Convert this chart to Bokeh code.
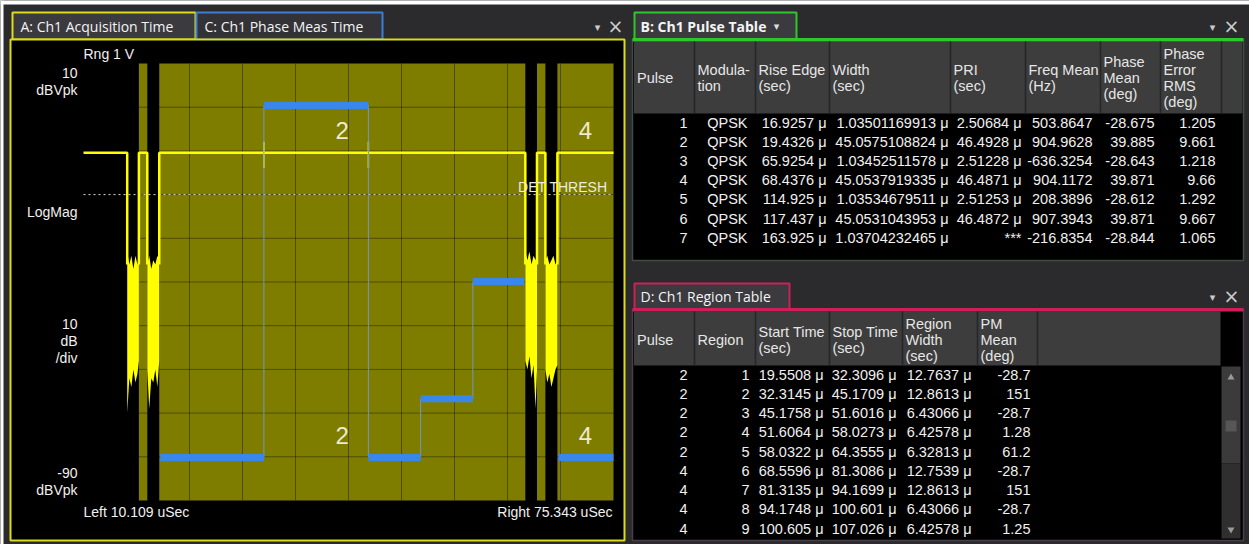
from bokeh.plotting import figure
from bokeh.models import Range1d
from bokeh.core.properties import value
from bokeh.embed import file_html
from bokeh.resources import INLINE

# ---------------- chart values ----------------
x_left_us = 10.109
x_right_us = 75.343
db_top = 10.0
db_bottom = -90.0
db_per_div = 10.0
det_thresh_db = -20.0
trace_on_db = -10.4
prev_pulse_end_us = 15.49
phase_top_deg = 172.4
phase_bottom_deg = -50.6
range_v = 1

# Pulse table (B)
pulse_no = [1, 2, 3, 4, 5, 6, 7]
pulse_mod = ["QPSK", "QPSK", "QPSK", "QPSK", "QPSK", "QPSK", "QPSK"]
rise_edge_us = [16.9257, 19.4326, 65.9254, 68.4376, 114.925, 117.437, 163.925]
width_us = [1.03501169913, 45.0575108824, 1.03452511578, 45.0537919335,
            1.03534679511, 45.0531043953, 1.03704232465]
pri_us = [2.50684, 46.4928, 2.51228, 46.4871, 2.51253, 46.4872, None]
freq_mean_hz = [503.8647, 904.9628, -636.3254, 904.1172, 208.3896, 907.3943, -216.8354]
phase_mean_deg = [-28.675, 39.885, -28.643, 39.871, -28.612, 39.871, -28.844]
phase_err_rms_deg = [1.205, 9.661, 1.218, 9.66, 1.292, 9.667, 1.065]

# Region table (D)
region_pulse = [2, 2, 2, 2, 2, 4, 4, 4, 4]
region_no = [1, 2, 3, 4, 5, 6, 7, 8, 9]
region_start_us = [19.5508, 32.3145, 45.1758, 51.6064, 58.0322, 68.5596, 81.3135, 94.1748, 100.605]
region_stop_us = [32.3096, 45.1709, 51.6016, 58.0273, 64.3555, 81.3086, 94.1699, 100.601, 107.026]
region_width_us = [12.7637, 12.8613, 6.43066, 6.42578, 6.32813, 12.7539, 12.8613, 6.43066, 6.42578]
region_pm_mean_deg = [-28.7, 151, -28.7, 1.28, 61.2, -28.7, 151, -28.7, 1.25]

# Off-pulse noise bursts seen in the gaps (us, dBVpk)
noise_t_us = [
    [15.49, 15.75, 16.0, 16.25, 16.5, 16.75, 16.93],
    [17.96, 18.2, 18.45, 18.7, 18.95, 19.2, 19.43],
    [64.49, 64.75, 65.0, 65.25, 65.5, 65.75, 65.93],
    [66.96, 67.2, 67.45, 67.7, 67.95, 68.2, 68.44],
]
noise_hi_db = [
    [-33, -36, -34, -37, -34, -36, -35],
    [-36, -34, -37, -35, -36, -34, -35],
    [-33, -35, -33, -36, -34, -35, -34],
    [-35, -34, -36, -35, -34, -36, -35],
]
noise_lo_db = [
    [-70, -62, -64, -60, -63, -61, -58],
    [-60, -69, -62, -63, -60, -64, -58],
    [-58, -60, -57, -62, -59, -69, -60],
    [-60, -63, -61, -64, -62, -60, -59],
]

# ---------------- styling / layout ----------------
BG = "#2b2b2e"
TAB_BG = "#3a3a3f"
YEL = "#dcdc1e"
BLUE_TAB = "#3c7fd2"
GREEN = "#2ec82e"
CRIMSON = "#d01f58"
OLIVE = "#7e7d00"
TRACE = "#ffff00"
PHASE = "#3a87ec"
HDR_BG = "#3d3d3d"
SEP = "#262626"
TXT = "#f0f0f0"
FONT = "Liberation Sans"
TAB_FONT = "Open Sans"
SYM_FONT = "DejaVu Sans"
DATA_SIZE = "14.5px"
HEAD_SIZE = "14.5px"

W, H = 1249, 544
# waveform plot area in page pixels
PL, PR, PT, PB = 83, 613, 63, 500

p = figure(width=W, height=H, x_range=Range1d(0, W), y_range=Range1d(H, 0),
           output_backend="svg", toolbar_location=None, min_border=0,
           x_axis_type=None, y_axis_type=None, background_fill_color=BG,
           border_fill_color=BG, outline_line_color=None)
p.grid.visible = False

kt = (x_right_us - x_left_us) / (PR - PL)
kdb = (db_top - db_bottom) / (PB - PT)
kdeg = (phase_top_deg - phase_bottom_deg) / (PB - PT)
p.extra_x_ranges = {"t": Range1d(x_left_us - PL * kt, x_right_us + (W - PR) * kt)}
p.extra_y_ranges = {
    "db": Range1d(db_bottom - (H - PB) * kdb, db_top + PT * kdb),
    "deg": Range1d(phase_bottom_deg - (H - PB) * kdeg, phase_top_deg + PT * kdeg),
}


def txt(xs, ys, texts, size="14px", color=TXT, align="left", font=FONT, style="normal", **kw):
    p.text(x=list(xs), y=list(ys), text=list(texts), text_font=value(font), text_font_size=size,
           text_color=color, text_align=align, text_baseline="middle", text_font_style=style, **kw)


# white screenshot edge
p.quad(left=[0], right=[W], top=[0], bottom=[4], fill_color="white", line_color=None)
p.quad(left=[0], right=[3], top=[0], bottom=[H], fill_color="white", line_color=None)

# ---------------- left panel chrome ----------------
p.quad(left=[12], right=[195], top=[12], bottom=[39], fill_color=TAB_BG, line_color=YEL, line_width=2)
p.quad(left=[196], right=[382], top=[12], bottom=[39], fill_color="#333337", line_color=BLUE_TAB, line_width=2)
txt([20], [26], ["A: Ch1 Acquisition Time"], size="14px", font=TAB_FONT, color="#f4f4f4")
txt([204], [26], ["C: Ch1 Phase Meas Time"], size="14px", font=TAB_FONT, color="#f4f4f4")
p.quad(left=[10], right=[624], top=[39], bottom=[540], fill_color="black", line_color=YEL, line_width=2)

# ---------------- waveform plot ----------------
pl_l, pl_r, pl_t, pl_b = [], [], [], []
for r, w in zip(rise_edge_us, width_us):
    a, b = max(r, x_left_us), min(r + w, x_right_us)
    if a < b:
        pl_l.append(a); pl_r.append(b); pl_t.append(db_top); pl_b.append(db_bottom)
p.quad(left=pl_l, right=pl_r, top=pl_t, bottom=pl_b, fill_color=OLIVE, line_color=None,
       x_range_name="t", y_range_name="db")

ndiv_x = 10
div_us = (x_right_us - x_left_us) / ndiv_x
gx = [x_left_us + i * div_us for i in range(1, ndiv_x)]
p.segment(x0=gx, x1=gx, y0=[db_top] * len(gx), y1=[db_bottom] * len(gx), line_color="black",
          line_alpha=0.38, line_width=1, x_range_name="t", y_range_name="db")
ndiv_y = int(round((db_top - db_bottom) / db_per_div))
gy = [db_top - i * db_per_div for i in range(1, ndiv_y)]
p.segment(x0=[x_left_us] * len(gy), x1=[x_right_us] * len(gy), y0=gy, y1=gy, line_color="black",
          line_alpha=0.38, line_width=1, x_range_name="t", y_range_name="db")

# detection threshold
p.segment(x0=[x_left_us], x1=[x_right_us], y0=[det_thresh_db], y1=[det_thresh_db], line_color="#d8d8d8",
          line_width=1, line_dash="2 3", x_range_name="t", y_range_name="db")

# noise in the gaps
for t, hi, lo in zip(noise_t_us, noise_hi_db, noise_lo_db):
    p.varea(x=t, y1=hi, y2=lo, fill_color=TRACE, x_range_name="t", y_range_name="db")

# magnitude trace (on-pulse level)
on_iv = [(x_left_us, prev_pulse_end_us)]
for r, w in zip(rise_edge_us, width_us):
    a, b = max(r, x_left_us), min(r + w, x_right_us)
    if a < b:
        on_iv.append((a, b))
xs, ys = [], []
for a, b in on_iv:
    xx, yy = [], []
    if a > x_left_us:
        xx.append(a); yy.append(-36)
    xx += [a, b]; yy += [trace_on_db, trace_on_db]
    if b < x_right_us:
        xx.append(b); yy.append(-36)
    xs.append(xx); ys.append(yy)
p.multi_line(xs=xs, ys=ys, line_color=TRACE, line_width=2.5, x_range_name="t", y_range_name="db")

# phase-jump glitches on the trace
sx = [region_start_us[i + 1] for i in range(len(region_no) - 1)
      if region_pulse[i] == region_pulse[i + 1] and abs(region_pm_mean_deg[i + 1] - region_pm_mean_deg[i]) > 90
      and region_start_us[i + 1] < x_right_us]
p.segment(x0=sx, x1=sx, y0=[trace_on_db + 2.5] * len(sx), y1=[trace_on_db - 3.5] * len(sx),
          line_color=TRACE, line_width=1.5, x_range_name="t", y_range_name="db")

# phase trace connectors and segments
cx, cy0, cy1 = [], [], []
for i in range(len(region_no) - 1):
    if region_pulse[i] == region_pulse[i + 1] and region_start_us[i + 1] < x_right_us:
        cx.append(region_start_us[i + 1]); cy0.append(region_pm_mean_deg[i]); cy1.append(region_pm_mean_deg[i + 1])
p.segment(x0=cx, x1=cx, y0=cy0, y1=cy1, line_color="#7196c8", line_width=1, x_range_name="t", y_range_name="deg")
s0, s1, sy = [], [], []
for a, b, v in zip(region_start_us, region_stop_us, region_pm_mean_deg):
    a2, b2 = max(a, x_left_us), min(b, x_right_us)
    if a2 < b2:
        s0.append(a2); s1.append(b2); sy.append(v)
p.segment(x0=s0, x1=s1, y0=sy, y1=sy, line_color=PHASE, line_width=7, x_range_name="t", y_range_name="deg")

# pulse number labels
lab_x, lab_t = [], []
for n in sorted(set(region_pulse)):
    r, w = rise_edge_us[pulse_no.index(n)], width_us[pulse_no.index(n)]
    a, b = max(r, x_left_us), min(r + w, x_right_us)
    if a < b:
        lab_x += [(a + b) / 2] * 2
        lab_t += [str(n)] * 2
txt(lab_x, [130, 435] * (len(lab_x) // 2), lab_t, size="24px", color="#ecebcb", align="center",
    x_range_name="t")

# axis annotations
txt([PL], [53], [f"Rng {range_v}  V"])
txt([77] * 8, [72, 89, 211, 323, 340, 357, 472, 489],
    [f"{db_top:g}", "dBVpk", "LogMag", f"{db_per_div:g}", "dB", "/div", f"{db_bottom:g}", "dBVpk"], align="right")
txt([PL], [511], [f"Left {x_left_us:.3f} uSec"])
txt([PR - 1], [511], [f"Right {x_right_us:.3f} uSec"], align="right")
txt([607], [186], ["DET THRESH"], color="#ececdc", align="right")

# ---------------- right panels ----------------
# panel B
p.quad(left=[632], right=[1243], top=[39], bottom=[260], fill_color="black", line_color="#3f4d3f", line_width=1.5)
p.quad(left=[633.5], right=[1242], top=[41], bottom=[113], fill_color=HDR_BG, line_color=None)
p.quad(left=[634], right=[796], top=[12], bottom=[39], fill_color=TAB_BG, line_color=GREEN, line_width=2)
p.quad(left=[632], right=[1243], top=[37.5], bottom=[41], fill_color=GREEN, line_color=None)
txt([640], [26], ["B: Ch1 Pulse Table"], font=TAB_FONT, style="bold", color="#f4f4f4")
txt([776], [26], ["▾"], size="11px", font=SYM_FONT, color="#dddddd", align="center")

b_edges = [633.5, 694, 755, 829, 950, 1025, 1100, 1160, 1221, 1242]
p.segment(x0=b_edges[1:-1], x1=b_edges[1:-1], y0=[41] * 8, y1=[113] * 8, line_color=SEP, line_width=1.5)
b_heads = [["Pulse"], ["Modula-", "tion"], ["Rise Edge", "(sec)"], ["Width", "(sec)"], ["PRI", "(sec)"],
           ["Freq Mean", "(Hz)"], ["Phase", "Mean", "(deg)"], ["Phase", "Error", "RMS", "(deg)"]]
hx, hy, ht = [], [], []
for i, lines in enumerate(b_heads):
    n = len(lines)
    for j, s in enumerate(lines):
        hx.append(b_edges[i] + 3); hy.append(77 + (j - (n - 1) / 2) * 16); ht.append(s)
txt(hx, hy, ht, size=HEAD_SIZE, color="#e6e6e6")

b_right = [687, 747, 826, 948, 1021, 1092, 1154, 1215]
b_cols = [
    [str(v) for v in pulse_no],
    pulse_mod,
    [f"{v:.6g} μ" for v in rise_edge_us],
    [f"{v:.12g} μ" for v in width_us],
    ["***" if v is None else f"{v:.6g} μ" for v in pri_us],
    [f"{v:.4f}" for v in freq_mean_hz],
    [f"{v:.3f}" for v in phase_mean_deg],
    [f"{v:.4g}" for v in phase_err_rms_deg],
]
for c, col in enumerate(b_cols):
    txt([b_right[c]] * len(col), [122 + r * 19.2 for r in range(len(col))], col, size=DATA_SIZE, align="right")

# panel D
p.quad(left=[632], right=[1243], top=[309], bottom=[540], fill_color="black", line_color="#4a3d4a", line_width=1.5)
p.quad(left=[633.5], right=[1220], top=[311], bottom=[365], fill_color=HDR_BG, line_color=None)
p.quad(left=[634], right=[789], top=[283], bottom=[309], fill_color=TAB_BG, line_color=CRIMSON, line_width=2)
p.quad(left=[632], right=[1243], top=[307.5], bottom=[311], fill_color=CRIMSON, line_color=None)
txt([640], [296], ["D: Ch1 Region Table"], font=TAB_FONT, color="#f4f4f4")

d_edges = [633.5, 694, 755, 829, 902, 977, 1037, 1220]
p.segment(x0=d_edges[1:-1], x1=d_edges[1:-1], y0=[311] * 6, y1=[365] * 6, line_color=SEP, line_width=1.5)
d_heads = [["Pulse"], ["Region"], ["Start Time", "(sec)"], ["Stop Time", "(sec)"],
           ["Region", "Width", "(sec)"], ["PM", "Mean", "(deg)"]]
hx, hy, ht = [], [], []
for i, lines in enumerate(d_heads):
    n = len(lines)
    for j, s in enumerate(lines):
        hx.append(d_edges[i] + 3); hy.append(339 + (j - (n - 1) / 2) * 16); ht.append(s)
txt(hx, hy, ht, size=HEAD_SIZE, color="#e6e6e6")

d_right = [687, 749, 823, 896, 971, 1030]
d_cols = [
    [str(v) for v in region_pulse],
    [str(v) for v in region_no],
    [f"{v:.6g} μ" for v in region_start_us],
    [f"{v:.6g} μ" for v in region_stop_us],
    [f"{v:.6g} μ" for v in region_width_us],
    [f"{v:.3g}" for v in region_pm_mean_deg],
]
for c, col in enumerate(d_cols):
    txt([d_right[c]] * len(col), [374 + r * 19.25 for r in range(len(col))], col, size=DATA_SIZE, align="right")

# scrollbar
p.quad(left=[1221], right=[1240], top=[366], bottom=[463], fill_color="#3b3b3b", line_color=None)
p.quad(left=[1221], right=[1240], top=[463], bottom=[538], fill_color="#2f2f2f", line_color=None)
p.quad(left=[1225], right=[1236], top=[420], bottom=[431], fill_color="#575757", line_color=None)
p.scatter(x=[1230.5], y=[377], marker="triangle", size=7, fill_color="#9a9a9a", line_color=None)
p.scatter(x=[1230.5], y=[529], marker="inverted_triangle", size=7, fill_color="#9a9a9a", line_color=None)

# panel menu / close icons
txt([597, 1212, 1212], [27, 27, 297], ["▾"] * 3, size="11px", font=SYM_FONT, color="#cccccc", align="center")
txt([615, 1231, 1231], [25, 25, 295], ["×"] * 3, size="19px", font=SYM_FONT, color="#cccccc", align="center")

open("out.html", "w").write(file_html(p, INLINE))
